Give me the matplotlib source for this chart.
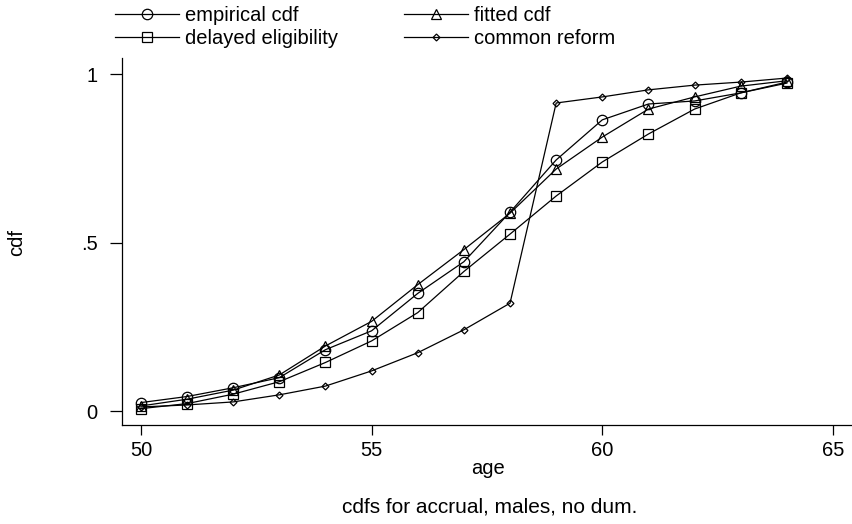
import numpy as np
import matplotlib
matplotlib.use("Agg")
import matplotlib.pyplot as plt

# ===========================
# data: cdf by age
# ===========================

ages = np.arange(50, 65)

empirical_cdf = [0.025, 0.043, 0.069, 0.099, 0.182, 0.238, 0.349, 0.443,
                 0.590, 0.745, 0.864, 0.911, 0.920, 0.944, 0.976]
fitted_cdf = [0.015, 0.035, 0.062, 0.107, 0.193, 0.266, 0.375, 0.479,
              0.587, 0.718, 0.813, 0.896, 0.932, 0.964, 0.980]
delayed_eligibility = [0.007, 0.022, 0.050, 0.087, 0.144, 0.208, 0.292, 0.414,
                       0.525, 0.638, 0.739, 0.822, 0.896, 0.944, 0.973]
common_reform = [0.012, 0.018, 0.027, 0.048, 0.074, 0.119, 0.173, 0.241,
                 0.320, 0.914, 0.932, 0.953, 0.967, 0.976, 0.988]

x_ticks = [50, 55, 60, 65]
y_ticks = [0, 0.5, 1]
y_tick_labels = ["0", ".5", "1"]

# ===========================
# figure
# ===========================

plt.rcParams["font.family"] = ["Liberation Sans", "DejaVu Sans"]

W, H = 852, 524
fig = plt.figure(figsize=(W / 100, H / 100), dpi=100)
ax = fig.add_axes([122 / W, 1 - 425 / H, (851 - 122) / W, (425 - 58) / H])

line_kw = dict(color="black", linewidth=0.9, markeredgewidth=0.9,
               markerfacecolor="none", markeredgecolor="black")

ax.plot(ages, empirical_cdf, marker="o", markersize=7.5,
        label="empirical cdf", **line_kw)
ax.plot(ages, delayed_eligibility, marker="s", markersize=7,
        label="delayed eligibility", **line_kw)
ax.plot(ages, fitted_cdf, marker="^", markersize=7.5,
        label="fitted cdf", **line_kw)
ax.plot(ages, common_reform, marker="D", markersize=3.5,
        label="common reform", **line_kw)

ax.set_xlim(49.59, 65.39)
ax.set_ylim(-0.0415, 1.0475)

ax.set_xticks(x_ticks)
ax.set_yticks(y_ticks)
ax.set_yticklabels(y_tick_labels)

ax.tick_params(axis="x", length=7.5, width=0.9, pad=4, labelsize=14.5)
ax.tick_params(axis="y", length=8.5, width=0.9, pad=9, labelsize=14.5)

for side in ["top", "right"]:
    ax.spines[side].set_visible(False)
for side in ["left", "bottom"]:
    ax.spines[side].set_linewidth(0.9)

fig.text(17 / W, 1 - 243 / H, "cdf", rotation=90, fontsize=14.5,
         ha="center", va="center")
fig.text(488 / W, 1 - 468 / H, "age", fontsize=14.5,
         ha="center", va="center")
fig.text(490 / W, 1 - 507 / H, "cdfs for accrual, males, no dum.",
         fontsize=15, ha="center", va="center")

fig.legend(loc="upper left", bbox_to_anchor=(115 / W, 1 - 6 / H),
           ncol=2, frameon=False, fontsize=14.5, handlelength=3.2,
           handletextpad=0.3, columnspacing=3.25, labelspacing=0.2,
           borderaxespad=0, borderpad=0, numpoints=1)

fig.savefig("out.png", dpi=100)
